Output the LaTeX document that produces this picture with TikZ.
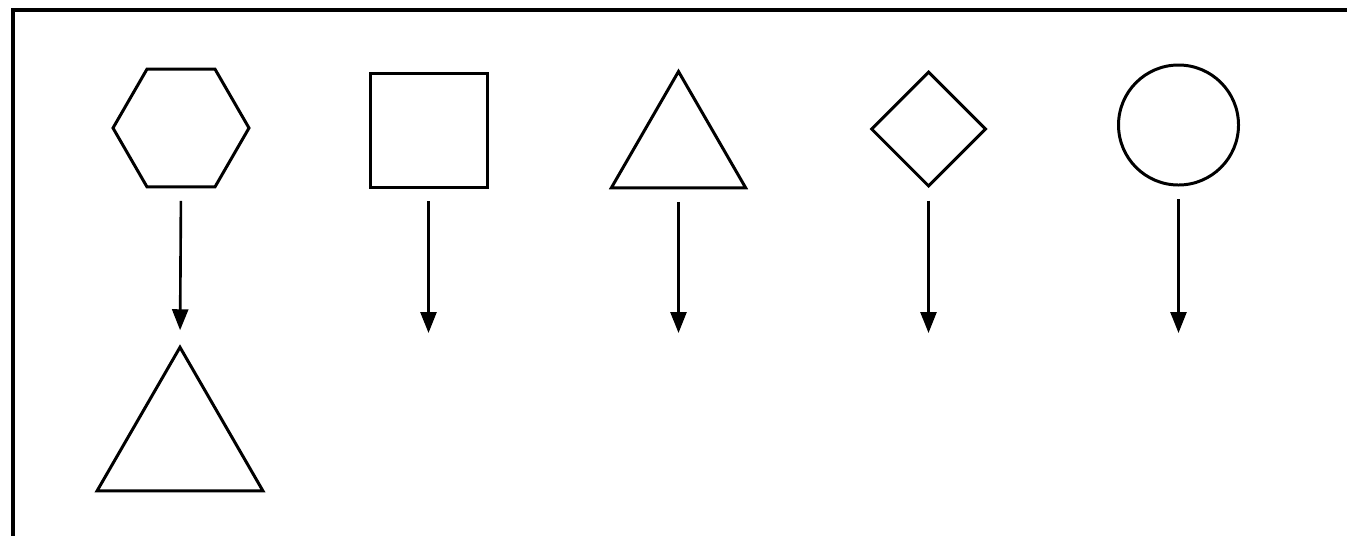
\documentclass[tikz,border=0pt]{standalone}
\usetikzlibrary{shapes.geometric,arrows.meta}

\begin{document}
\begin{tikzpicture}[
    line width=1.7pt,
    >={Triangle[length=0.42cm,width=0.32cm]},
    figure/.style={draw, inner sep=0pt},
    flow/.style={->, line width=1.5pt, shorten <=0.25cm}
  ]
  \clip (0,0) rectangle (26.94,-10.7);
  \fill[white] (0,0) rectangle (26.94,-10.7);

  % frame (only top and left edge in view)
  \draw[line width=2pt] (0.26,-12) -- (0.26,-0.2) -- (28,-0.2);

  % top row of figures
  \node[figure, regular polygon, regular polygon sides=6, minimum size=2.72cm]
    (hexagon) at (3.62,-2.56) {};
  \node[figure, rectangle, minimum width=2.34cm, minimum height=2.28cm]
    (square) at (8.57,-2.6) {};
  \node[figure, regular polygon, regular polygon sides=3, minimum size=3.1cm]
    (triangle) at (13.57,-2.98) {};
  \node[figure, diamond, minimum width=2.3cm, minimum height=2.3cm]
    (rhombus) at (18.57,-2.58) {};
  \node[figure, circle, minimum size=2.4cm]
    (disc) at (23.57,-2.5) {};

  % result of the hexagon
  \node[figure, regular polygon, regular polygon sides=3, minimum size=3.83cm]
    (bigtriangle) at (3.6,-8.86) {};

  % arrow ends
  \coordinate (lowrow) at (0,-6.66);
  \coordinate (squareend) at (square.south |- lowrow);
  \coordinate (triangleend) at (triangle.south |- lowrow);
  \coordinate (rhombusend) at (rhombus.south |- lowrow);
  \coordinate (discend) at (disc.south |- lowrow);

  % arrows
  \draw[flow, shorten >=0.28cm] (hexagon.south) -- (bigtriangle.north);
  \draw[flow] (square.south) -- (squareend);
  \draw[flow] (triangle.south) -- (triangleend);
  \draw[flow] (rhombus.south) -- (rhombusend);
  \draw[flow] (disc.south) -- (discend);
\end{tikzpicture}
\end{document}
